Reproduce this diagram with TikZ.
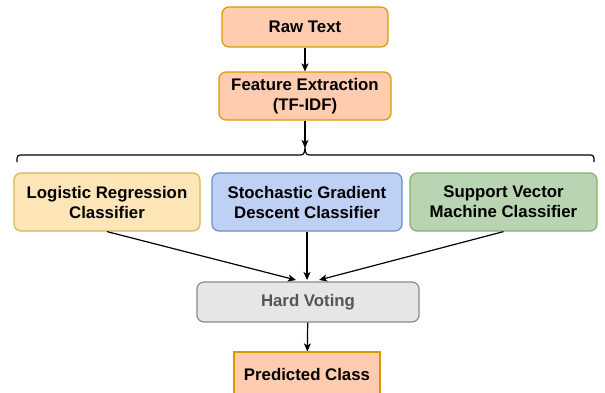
\documentclass[tikz,border=0pt]{standalone}
\usepackage{fontspec}
\setmainfont{Liberation Sans}
\usetikzlibrary{arrows.meta,calc}
\definecolor{rawfill}{HTML}{FFCCB0}
\definecolor{rawdraw}{HTML}{D79B00}
\definecolor{lrfill}{HTML}{FDE5B8}
\definecolor{lrdraw}{HTML}{D6B656}
\definecolor{sgdfill}{HTML}{BFD0F5}
\definecolor{sgddraw}{HTML}{6C8EBF}
\definecolor{svmfill}{HTML}{B9D4B3}
\definecolor{svmdraw}{HTML}{82B366}
\definecolor{hvfill}{HTML}{E6E6E6}
\definecolor{hvdraw}{HTML}{8A8A8A}
\definecolor{hvtext}{HTML}{555555}
\tikzset{
  x=1pt, y=-1pt,
  boxbase/.style={draw, line width=1.2pt, align=center, inner sep=0pt,
    font=\fontsize{16.8}{20}\selectfont\bfseries},
  rbox/.style={boxbase, rounded corners=7pt},
  conn/.style={line width=1.2pt, -{Stealth[length=8pt,width=7pt,inset=2pt]}}
}
\begin{document}
\begin{tikzpicture}
\useasboundingbox (0,0) rectangle (605,392);
\node[rbox, fill=rawfill, draw=rawdraw, minimum width=166pt, minimum height=40pt] (raw) at (305,27) {Raw Text};
\node[rbox, fill=rawfill, draw=rawdraw, minimum width=172pt, minimum height=48pt] (fe) at (305,96) {Feature Extraction\\(TF-IDF)};
\node[rbox, fill=lrfill, draw=lrdraw, minimum width=186pt, minimum height=58pt] (lr) at (107,202) {Logistic Regression\\Classifier};
\node[rbox, fill=sgdfill, draw=sgddraw, minimum width=190pt, minimum height=58pt] (sgd) at (307,202) {Stochastic Gradient\\Descent Classifier};
\node[rbox, fill=svmfill, draw=svmdraw, minimum width=187pt, minimum height=58pt] (svm) at (503.5,202) {Support Vector\\Machine Classifier};
\node[rbox, fill=hvfill, draw=hvdraw, text=hvtext, minimum width=222pt, minimum height=40pt] (hv) at (308,302) {Hard Voting};
\node[boxbase, fill=rawfill, draw=rawdraw, minimum width=146pt, minimum height=44pt] (pc) at (307,374) {Predicted Class};
% brace
\coordinate (btip) at (305,148);
\draw[line width=1.2pt] (17,162) .. controls (17,155) .. (24,155) -- (297,155) .. controls (304,155) .. (btip)
  .. controls (306,155) .. (313,155) -- (587,155) .. controls (594,155) .. (594,162);
\draw[conn] (raw) -- (fe);
\draw[conn] (fe) -- (btip);
\coordinate (hvl) at (296,280);
\coordinate (hvm) at (307,280);
\coordinate (hvr) at (319,280);
\draw[conn] (lr.south) -- (hvl);
\draw[conn] (sgd.south) -- (hvm);
\draw[conn] (svm.south) -- (hvr);
\draw[conn] (hv) -- (pc);
\end{tikzpicture}
\end{document}
